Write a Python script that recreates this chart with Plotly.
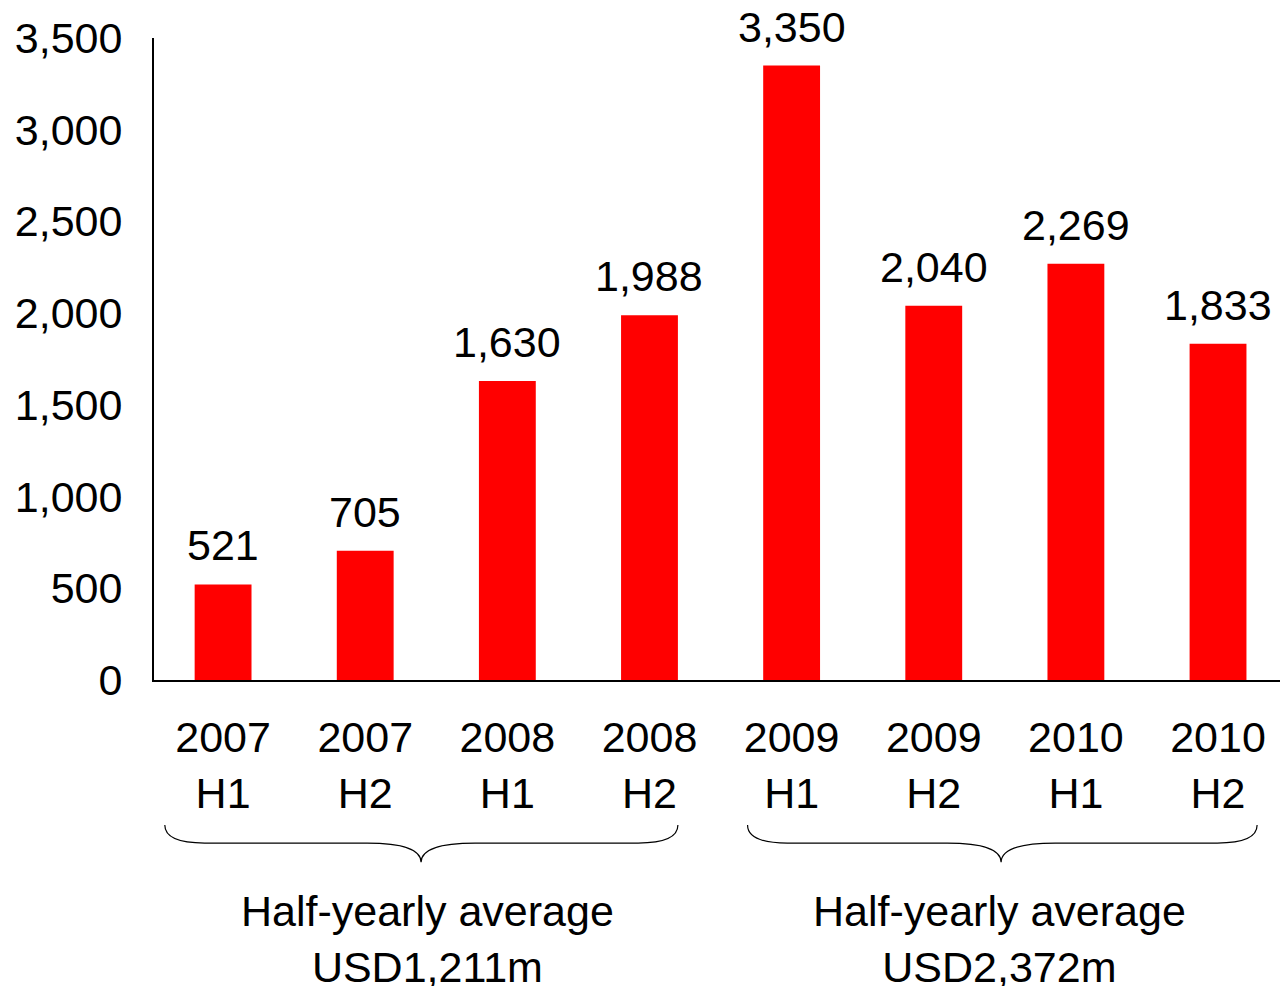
import plotly.graph_objects as go

# half-year periods and values (USD m)
periods = ["2007<br>H1", "2007<br>H2", "2008<br>H1", "2008<br>H2",
           "2009<br>H1", "2009<br>H2", "2010<br>H1", "2010<br>H2"]
values = [521, 705, 1630, 1988, 3350, 2040, 2269, 1833]

# captions under the two braces
captions = ["Half-yearly average<br>USD1,211m",
            "Half-yearly average<br>USD2,372m"]

y_ticks = [0, 500, 1000, 1500, 2000, 2500, 3000, 3500]

FONT = "Liberation Sans, Arial, sans-serif"
FS = 43
x_pos = list(range(len(periods)))

fig = go.Figure()
fig.add_trace(go.Bar(
    x=x_pos,
    y=values,
    width=0.4,
    marker=dict(color="#ff0000", line=dict(width=0)),
    hoverinfo="skip",
    showlegend=False,
))

# value labels above the bars
annotations = []
for xv, v in zip(x_pos, values):
    annotations.append(dict(
        x=xv, y=v, xref="x", yref="y", text=f"{v:,}",
        showarrow=False, xanchor="center", yanchor="middle", yshift=39,
        font=dict(size=FS, color="black", family=FONT),
    ))

# hand-drawn style braces (x extents in axis units, tip and caption centres)
brace_spans = [(-0.41, 3.20, 1.393, 1.44), (3.69, 7.275, 5.474, 5.46)]
y_top, y_line, y_tip = -0.226, -0.254, -0.284
shapes = []
for (left, right, mid, cap_x), caption in zip(brace_spans, captions):
    de = 0.28
    dm = 0.38
    path = (
        f"M {left},{y_top} Q {left},{y_line} {left + de},{y_line} "
        f"L {mid - dm},{y_line} Q {mid},{y_line} {mid},{y_tip} "
        f"Q {mid},{y_line} {mid + dm},{y_line} "
        f"L {right - de},{y_line} Q {right},{y_line} {right},{y_top}"
    )
    shapes.append(dict(type="path", path=path, xref="x", yref="paper",
                       line=dict(color="black", width=1.2)))
    annotations.append(dict(
        x=cap_x, y=-0.403, xref="x", yref="paper",
        text=caption, showarrow=False, xanchor="center", yanchor="middle",
        font=dict(size=FS, color="black", family=FONT),
    ))

fig.update_layout(
    width=1280,
    height=986,
    margin=dict(l=154, r=0, t=38, b=306),
    paper_bgcolor="white",
    plot_bgcolor="white",
    font=dict(family=FONT, size=FS, color="black"),
    shapes=shapes,
    annotations=annotations,
    xaxis=dict(
        range=[-0.486, 7.436],
        tickmode="array",
        tickvals=x_pos,
        ticktext=periods,
        showline=True,
        linecolor="black",
        linewidth=2,
        showgrid=False,
        zeroline=False,
        ticks="",
        ticklabelstandoff=18,
        tickfont=dict(size=FS),
    ),
    yaxis=dict(
        range=[0, 3500],
        tickvals=y_ticks,
        tickformat=",",
        showline=True,
        linecolor="black",
        linewidth=2,
        showgrid=False,
        zeroline=False,
        ticks="",
        ticklabelstandoff=21,
        tickfont=dict(size=FS),
    ),
)

# drop the default page margin so the figure fills the window
fig.write_html("out.html", config={"displayModeBar": False},
               post_script="document.body.style.margin='0';")
